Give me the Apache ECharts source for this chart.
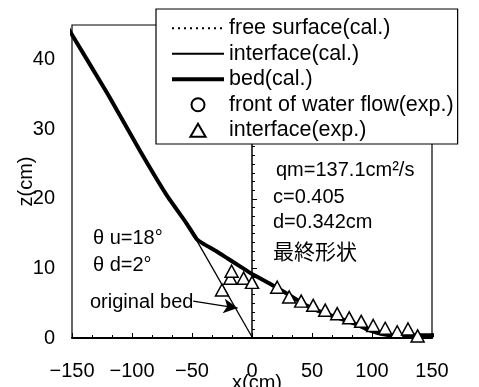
<!DOCTYPE html>
<html>
<head>
<meta charset="utf-8">
<script src="https://cdn.jsdelivr.net/npm/echarts@6/dist/echarts.min.js"></script>
<style>
html,body{margin:0;padding:0;background:#fff;}
#chart{width:479px;height:387px;}
</style>
</head>
<body>
<div id="chart"></div>
<script>
// ---- data ----
var xTicks = [-150, -100, -50, 0, 50, 100, 150];
var yTicks = [0, 10, 20, 30, 40];
var seriesNames = ['free surface(cal.)', 'interface(cal.)', 'bed(cal.)', 'front of water flow(exp.)', 'interface(exp.)'];
var freeSurface = [];
var interfaceCal = [];
var bedCal = [[-157,45.6],[-150,43.6],[-120,35],[-93,26.8],[-71,20.5],[-55,16.6],[-46,14.2],[-40,13.5],[-30,12.5],[-20,11.4],[-10,10.3],[0,9.2],[15,7.8],[30,6.3],[45,4.7],[55,3.9],[70,3.0],[85,2.1],[95,1.3],[105,0.7],[115,0.4],[152,0.4]];
var frontExp = [];
var interfaceExp = [[-18,8.6],[-25,6.9],[-17,9.6],[-7,8.6],[0,8.0],[21,7.3],[31,5.9],[41,5.3],[51,4.7],[61,4.0],[71,3.5],[81,2.9],[91,2.4],[101,1.8],[111,1.4],[121,0.9],[130,1.3],[138,0.3]];
var originalBed = [[-46,14.0],[0.5,0]];
var arrowFrom = [-49, 5.3];
var arrowTo = [-12, 4.3];

var FONT = 'Liberation Sans, Noto Sans CJK JP, sans-serif';
var FS = 20;
var LFS = 21.5;
var TRI = 'path://M7,0 L14,12 L0,12 Z';

var chart = echarts.init(document.getElementById('chart'), null, {renderer:'canvas'});
var hideSym = {color: 'rgba(0,0,0,0)', borderWidth: 0, opacity: 0};
var option = {
  backgroundColor: '#fff',
  animation: false,
  grid: {left: 72, right: 47, top: 25, bottom: 49, show: true, borderColor: '#000', borderWidth: 1.2,
         backgroundColor: 'transparent', containLabel: false, outerBoundsMode: 'none'},
  xAxis: {
    type: 'value', min: xTicks[0], max: xTicks[xTicks.length-1], interval: 50,
    name: 'x(cm)', nameLocation: 'middle', nameGap: 35, nameMoveOverlap: false,
    nameTextStyle: {fontFamily: FONT, fontSize: FS, color: '#000', padding: [0,0,0,10]},
    axisLine: {lineStyle: {color: '#000', width: 2}},
    axisTick: {inside: true, length: 5, lineStyle: {color: '#000', width: 1}},
    minorTick: {show: true, splitNumber: 3, length: 3, lineStyle: {color: '#000', width: 1}},
    splitLine: {show: false},
    axisLabel: {fontFamily: FONT, fontSize: FS, color: '#000', margin: 23,
      formatter: function(v){ return v < 0 ? '\u2212' + Math.abs(v) : String(v); }}
  },
  yAxis: {
    type: 'value', min: yTicks[0], max: 45, interval: 10,
    name: 'z(cm)', nameLocation: 'middle', nameGap: 36, nameRotate: 90, nameMoveOverlap: false,
    nameTextStyle: {fontFamily: FONT, fontSize: FS, color: '#000'},
    axisLine: {lineStyle: {color: '#000', width: 1.5}},
    axisTick: {inside: true, length: 5, lineStyle: {color: '#000', width: 1}},
    minorTick: {show: true, splitNumber: 8, length: 3, lineStyle: {color: '#000', width: 1}},
    splitLine: {show: false},
    axisLabel: {fontFamily: FONT, fontSize: FS, color: '#000', margin: 17, showMaxLabel: false}
  },
  legend: {
    data: [
      {name: seriesNames[0], itemStyle: hideSym},
      {name: seriesNames[1], itemStyle: hideSym},
      {name: seriesNames[2], itemStyle: hideSym, lineStyle: {width: 4}},
      {name: seriesNames[3], icon: 'circle'},
      {name: seriesNames[4], icon: TRI}
    ],
    orient: 'vertical', left: 156, top: 9,
    padding: [8.5, 4, 3, 14],
    itemWidth: 52, itemHeight: 13, itemGap: 4,
    symbolKeepAspect: true,
    backgroundColor: '#fff', borderColor: '#000', borderWidth: 1.2, borderRadius: 0,
    textStyle: {fontFamily: FONT, fontSize: LFS, color: '#000'},
    selectedMode: false, z: 10
  },
  series: [
    {name: seriesNames[0], type: 'line', data: freeSurface, symbol: 'none',
     lineStyle: {color: '#000', width: 1.5, type: [2, 4]}, itemStyle: {color: '#000'}},
    {name: seriesNames[1], type: 'line', data: interfaceCal, symbol: 'none',
     lineStyle: {color: '#000', width: 1.3}, itemStyle: {color: '#000'}},
    {name: seriesNames[2], type: 'line', data: bedCal, symbol: 'none', clip: false, z: 4, smooth: 0.15,
     lineStyle: {color: '#000', width: 4}, itemStyle: {color: '#000'}},
    {name: seriesNames[3], type: 'scatter', data: frontExp, symbol: 'circle', symbolSize: 12, symbolKeepAspect: true,
     itemStyle: {color: '#fff', borderColor: '#000', borderWidth: 1.5, opacity: 1}},
    {name: seriesNames[4], type: 'scatter', data: interfaceExp, symbol: 'triangle', symbolSize: [13, 12], z: 5,
     itemStyle: {color: '#fff', borderColor: '#000', borderWidth: 1.5, opacity: 1}},
    {name: 'original bed', type: 'line', data: originalBed, symbol: 'none', z: 3,
     lineStyle: {color: '#000', width: 1.3},
     markLine: {silent: true, symbol: ['none', 'arrow'], symbolSize: [11, 14], animation: false,
       label: {show: false},
       lineStyle: {color: '#000', width: 1.3, type: 'solid'},
       data: [[{coord: arrowFrom}, {coord: arrowTo}]]}}
  ],
  graphic: [
    {type: 'text', x: 276, y: 170, z: 20, style: {text: 'qm=137.1cm\u00B2/s', fontFamily: FONT, fontSize: FS, fill: '#000', verticalAlign: 'middle'}},
    {type: 'text', x: 273, y: 197, z: 20, style: {text: 'c=0.405', fontFamily: FONT, fontSize: FS, fill: '#000', verticalAlign: 'middle'}},
    {type: 'text', x: 273, y: 222, z: 20, style: {text: 'd=0.342cm', fontFamily: FONT, fontSize: FS, fill: '#000', verticalAlign: 'middle'}},
    {type: 'text', x: 273, y: 253, z: 20, style: {text: '最終形状', fontFamily: FONT, fontSize: 21, fill: '#000', verticalAlign: 'middle'}},
    {type: 'text', x: 93, y: 238, z: 20, style: {text: '\u03B8 u=18\u00B0', fontFamily: FONT, fontSize: FS, fill: '#000', verticalAlign: 'middle'}},
    {type: 'text', x: 93, y: 265, z: 20, style: {text: '\u03B8 d=2\u00B0', fontFamily: FONT, fontSize: FS, fill: '#000', verticalAlign: 'middle'}},
    {type: 'text', x: 90, y: 302, z: 20, style: {text: 'original bed', fontFamily: FONT, fontSize: FS, fill: '#000', verticalAlign: 'middle'}}
  ]
};
chart.setOption(option);
</script>
</body>
</html>
